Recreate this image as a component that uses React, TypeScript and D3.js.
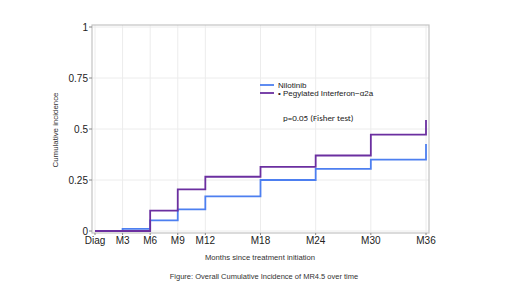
import React from "react";
import * as d3 from "d3";

const tickMonths = [0, 3, 6, 9, 12, 18, 24, 30, 36];
const tickLabels = ["Diag", "M3", "M6", "M9", "M12", "M18", "M24", "M30", "M36"];
const yTicks = [0, 0.25, 0.5, 0.75, 1];
const yTickLabels = ["0", "0.25", "0.5", "0.75", "1"];

// step changes: month, value after the step
const niloMonths = [0, 3, 6, 9, 12, 18, 24, 30, 36];
const niloValues = [0, 0.01, 0.052, 0.106, 0.17, 0.25, 0.305, 0.35, 0.426];
const pegMonths = [0, 6, 9, 12, 18, 24, 30, 36];
const pegValues = [0, 0.1, 0.204, 0.266, 0.314, 0.37, 0.472, 0.544];

const seriesNames = ["Nilotinib", "• Pegylated Interferon−α2a"];
const seriesColors = ["#4d7ff0", "#6b2fa0"];

export default function App() {
  const W = 520, H = 292;
  const left = 95, right = 426, top = 27, bottom = 231;
  const x = d3.scaleLinear().domain([0, 36]).range([left, right]);
  const y = d3.scaleLinear().domain([0, 1]).range([bottom, top]);
  const line = d3
    .line<[number, number]>()
    .x((d) => x(d[0]))
    .y((d) => y(d[1]))
    .curve(d3.curveStepAfter);

  const mk = (ms: number[], vs: number[]): [number, number][] =>
    ms.map((m, i) => [m, vs[i]] as [number, number]);

  const frameL = 92, frameR = 429, frameT = 25, frameB = 233;
  const font = "Liberation Sans, Arial, sans-serif";

  return (
    <svg
      width={W}
      height={H}
      style={{ position: "absolute", left: 0, top: 0, background: "#fff" }}
      fontFamily={font}
    >
      {/* grid */}
      {tickMonths.map((m) => (
        <line key={"gx" + m} x1={x(m)} x2={x(m)} y1={frameT} y2={frameB} stroke="#ececec" strokeWidth={1} />
      ))}
      {yTicks.map((v) => (
        <line key={"gy" + v} x1={frameL} x2={frameR} y1={y(v)} y2={y(v)} stroke="#ececec" strokeWidth={1} />
      ))}
      {/* frame */}
      <rect x={frameL} y={frameT} width={frameR - frameL} height={frameB - frameT} fill="none" stroke="#c4c4c4" strokeWidth={1.2} />
      {/* y ticks */}
      {yTicks.map((v, i) => (
        <g key={"yt" + v}>
          <line x1={frameL - 3} x2={frameL} y1={y(v)} y2={y(v)} stroke="#888" />
          <text x={frameL - 4} y={y(v)} dy="0.35em" textAnchor="end" fontSize={10} fill="#222">
            {yTickLabels[i]}
          </text>
        </g>
      ))}
      {/* x ticks */}
      {tickMonths.map((m, i) => (
        <g key={"xt" + m}>
          <line x1={x(m)} x2={x(m)} y1={frameB} y2={frameB + 2} stroke="#888" />
          <text x={x(m)} y={frameB + 11} textAnchor="middle" fontSize={10} fill="#222">
            {tickLabels[i]}
          </text>
        </g>
      ))}
      {/* series */}
      <path d={line(mk(niloMonths, niloValues)) || ""} fill="none" stroke={seriesColors[0]} strokeWidth={1.8} />
      <path d={line(mk(pegMonths, pegValues)) || ""} fill="none" stroke={seriesColors[1]} strokeWidth={1.8} />
      {/* legend */}
      {seriesNames.map((n, i) => (
        <g key={n}>
          <line x1={260} x2={274} y1={85 + i * 8} y2={85 + i * 8} stroke={seriesColors[i]} strokeWidth={1.8} />
          <text x={278} y={85 + i * 8} dy="0.35em" fontSize={8} fill="#222">
            {n}
          </text>
        </g>
      ))}
      <text x={283} y={118} dy="0.35em" fontSize={9} fill="#222" fontFamily="Carlito, Open Sans, sans-serif">
        p=0.05 (Fisher test)
      </text>
      {/* axis titles */}
      <text
        transform={`translate(58,130) rotate(-90)`}
        textAnchor="middle"
        fontSize={7.9}
        fill="#333"
      >
        Cumulative incidence
      </text>
      <text x={260} y={257} dy="0.35em" textAnchor="middle" fontSize={7.7} fill="#333">
        Months since treatment initiation
      </text>
      <text x={264} y={276} dy="0.35em" textAnchor="middle" fontSize={7.5} fill="#333">
        Figure: Overall Cumulative Incidence of MR4.5 over time
      </text>
    </svg>
  );
}
